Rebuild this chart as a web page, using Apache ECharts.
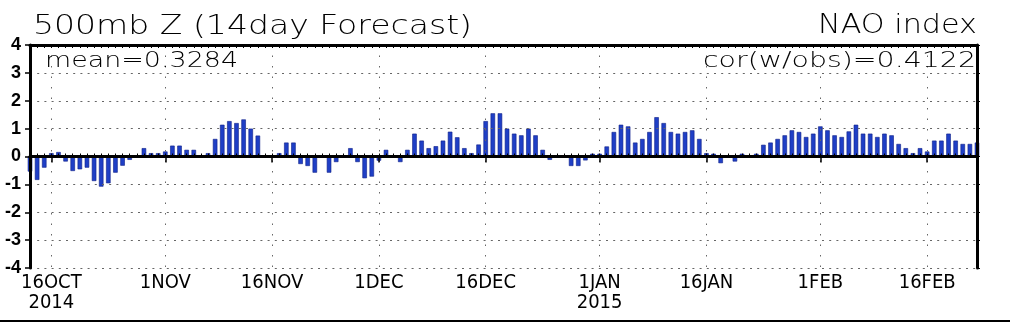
<!DOCTYPE html>
<html>
<head>
<meta charset="utf-8">
<title>NAO index</title>
<script src="https://cdn.jsdelivr.net/npm/echarts@6/dist/echarts.min.js"></script>
<style>
  html, body { margin: 0; padding: 0; background: #ffffff; }
  #chart { width: 1010px; height: 327px; }
</style>
</head>
<body>
<div id="chart"></div>
<script>
// ---- data -------------------------------------------------------------
// First day of the daily series (one bar per day)
const startDate = '2014-10-13';

// Daily NAO index, 14-day forecast of 500mb height
const naoValues = [
  -0.54, -0.84, -0.40,  0.12,  0.16, -0.18, -0.52, -0.46, -0.40, -0.88,
  -1.08, -0.96, -0.58, -0.33, -0.12,  0.02,  0.30,  0.12,  0.12,  0.18,
   0.39,  0.39,  0.24,  0.24,  0.03,  0.12,  0.63,  1.14,  1.27,  1.20,
   1.33,  1.00,  0.75,  0.02,  0.02,  0.12,  0.50,  0.50, -0.27, -0.34,
  -0.58,  0.00, -0.58, -0.20,  0.00,  0.30, -0.20, -0.78, -0.72, -0.15,
   0.24,  0.00, -0.20,  0.24,  0.82,  0.57,  0.30,  0.37,  0.57,  0.89,
   0.69,  0.30,  0.12,  0.43,  1.27,  1.55,  1.55,  1.00,  0.82,  0.76,
   1.00,  0.76,  0.24, -0.12,  0.02,  0.02, -0.34, -0.34, -0.14,  0.10,
   0.10,  0.36,  0.88,  1.14,  1.08,  0.50,  0.63,  0.88,  1.41,  1.20,
   0.88,  0.82,  0.88,  0.94,  0.63,  0.12,  0.10, -0.24,  0.02, -0.18,
   0.10,  0.02,  0.10,  0.42,  0.50,  0.63,  0.76,  0.94,  0.88,  0.70,
   0.82,  1.08,  0.94,  0.76,  0.70,  0.90,  1.14,  0.82,  0.82,  0.70,
   0.82,  0.76,  0.45,  0.30,  0.12,  0.30,  0.18,  0.57,  0.57,  0.82,
   0.57,  0.45,  0.45,  0.50
];

// Labelled dates on the time axis
const tickLabels = {
  '2014-10-16': '16OCT\n2014',
  '2014-11-01': '1NOV',
  '2014-11-16': '16NOV',
  '2014-12-01': '1DEC',
  '2014-12-16': '16DEC',
  '2015-01-01': '1JAN\n2015',
  '2015-01-16': '16JAN',
  '2015-02-01': '1FEB',
  '2015-02-16': '16FEB'
};

const yMin = -4;
const yMax = 4;

const titleText = '500mb Z (14day Forecast)';
const indexName = 'NAO index';
const meanText = 'mean=0.3284';
const corText = 'cor(w/obs)=0.4122';

// ---- daily category list ------------------------------------------------
const categories = [];
{
  const t0 = Date.parse(startDate + 'T00:00:00Z');
  for (let i = 0; i < naoValues.length; i++) {
    categories.push(new Date(t0 + i * 86400000).toISOString().slice(0, 10));
  }
}

// ---- helpers ------------------------------------------------------------
const TEXT_FAMILY = "'DejaVu Sans', 'Liberation Sans', sans-serif";
const AXIS_FAMILY = "'Liberation Sans Narrow', 'DejaVu Sans Condensed', 'Liberation Sans', sans-serif";
const measureCtx = document.createElement('canvas').getContext('2d');

// Light, wide lettering: stretch a text horizontally to span the given width
function wideText(str, anchorX, centerY, width, size, align) {
  measureCtx.font = `200 ${size}px ${TEXT_FAMILY}`;
  const natural = measureCtx.measureText(str).width;
  return {
    type: 'text',
    x: anchorX,
    y: centerY,
    scaleX: width / natural,
    z: 20,
    style: {
      text: str,
      fontFamily: TEXT_FAMILY,
      fontSize: size,
      fontWeight: 200,
      fill: '#000',
      align: align,
      verticalAlign: 'middle'
    }
  };
}

const isMajor = (idx, value) => Object.prototype.hasOwnProperty.call(tickLabels, value);

// Minor day ticks along the top and bottom frame edges
function dayTickAxis(position) {
  return {
    type: 'category',
    data: categories,
    boundaryGap: false,
    position: position,
    z: 10,
    axisLine: { show: true, lineStyle: { color: '#000', width: 3 } },
    axisTick: { show: true, inside: true, interval: 0, length: 3, lineStyle: { color: '#000', width: 1 } },
    axisLabel: { show: false },
    splitLine: { show: false }
  };
}

// ---- chart --------------------------------------------------------------
const chart = echarts.init(document.getElementById('chart'), null, { renderer: 'canvas' });

const option = {
  animation: false,
  backgroundColor: '#ffffff',
  grid: { left: 30, right: 33, top: 45, bottom: 59, containLabel: false },
  xAxis: [
    {
      type: 'category',
      data: categories,
      boundaryGap: false,
      position: 'bottom',
      z: 10,
      axisLine: { show: false },
      axisTick: {
        show: true, interval: isMajor, length: 6,
        lineStyle: { color: '#000', width: 1.5 }
      },
      axisLabel: {
        show: true,
        interval: isMajor,
        formatter: (v) => tickLabels[v] || '',
        fontFamily: AXIS_FAMILY,
        fontSize: 20,
        lineHeight: 20,
        color: '#000',
        margin: 5
      },
      splitLine: {
        show: true, interval: isMajor,
        lineStyle: { color: '#666', width: 1, type: [1.5, 9] }
      }
    },
    dayTickAxis('bottom'),
    dayTickAxis('top')
  ],
  yAxis: [
    {
      type: 'value',
      min: yMin, max: yMax, interval: 1,
      position: 'left',
      z: 10,
      axisLine: { show: true, onZero: false, lineStyle: { color: '#000', width: 3 } },
      axisTick: { show: true, length: 5, lineStyle: { color: '#000', width: 1.5 } },
      axisLabel: {
        fontFamily: "'Liberation Sans', 'DejaVu Sans', sans-serif",
        fontSize: 18, fontWeight: 'bold', color: '#000', margin: 9
      },
      splitLine: { show: true, lineStyle: { color: '#666', width: 1, type: [2, 5.2] } }
    },
    {
      type: 'value',
      min: yMin, max: yMax, interval: 1,
      position: 'right',
      z: 10,
      axisLine: { show: true, onZero: false, lineStyle: { color: '#000', width: 3 } },
      axisTick: { show: true, length: 3, lineStyle: { color: '#000', width: 1 } },
      axisLabel: { show: false },
      splitLine: { show: false }
    }
  ],
  series: [
    {
      type: 'bar',
      name: indexName,
      data: naoValues,
      xAxisIndex: 0,
      yAxisIndex: 0,
      barWidth: 4.5,
      clip: false,
      itemStyle: { color: '#1f3fc6', borderColor: '#0d1f86', borderWidth: 0.6 },
      markLine: {
        silent: true,
        symbol: 'none',
        label: { show: false },
        lineStyle: { color: '#000', width: 3, type: 'solid' },
        data: [{ yAxis: 0 }]
      }
    }
  ],
  graphic: [
    wideText(titleText, 33, 27, 439, 26, 'left'),
    wideText(indexName, 977, 25.5, 159, 27, 'right'),
    wideText(meanText, 45, 62, 193, 21, 'left'),
    wideText(corText, 976, 61.5, 273, 21, 'right'),
    {
      type: 'line',
      z: 20,
      shape: { x1: 0, y1: 321, x2: 1010, y2: 321 },
      style: { stroke: '#000', lineWidth: 2 }
    }
  ]
};

chart.setOption(option);
</script>
</body>
</html>
